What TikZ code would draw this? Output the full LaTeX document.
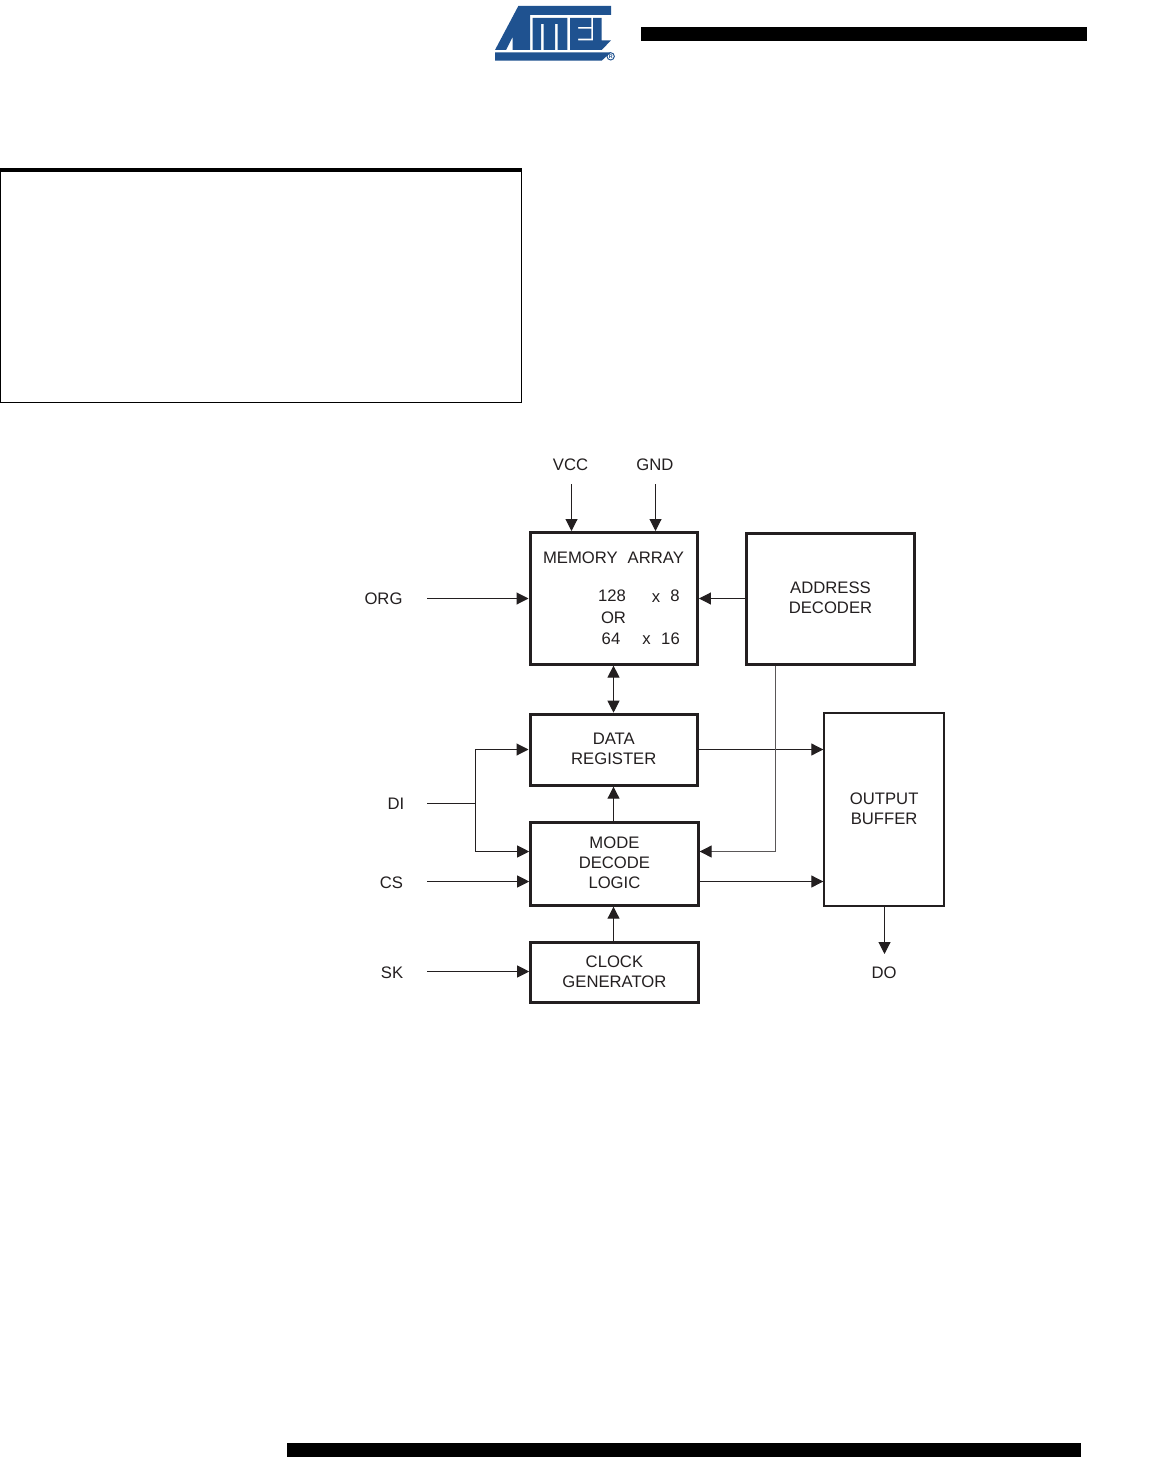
\documentclass[tikz,border=0pt]{standalone}
\usepackage{fontspec}
\setmainfont{Liberation Sans}
\usetikzlibrary{arrows.meta}
\definecolor{ink}{HTML}{231F20}
\definecolor{logoblue}{HTML}{1F5290}
\tikzset{
  x=0.75pt,y=-0.75pt,
  every node/.style={font=\fontsize{12.5pt}{15pt}\selectfont,text=ink,inner sep=0pt},
  heavybox/.style={draw=ink,line width=2.25pt,align=center,anchor=north west,text depth=1.5pt},
  thinbox/.style={draw=ink,line width=1.6pt,align=center,anchor=north west,text depth=1.5pt},
  lbl/.style={anchor=base},
  wire/.style={draw=ink,line width=0.8pt},
  arr/.style={wire,-{Triangle[length=9pt,width=9pt,color=ink]}},
  biarr/.style={wire,{Triangle[length=9pt,width=9pt,color=ink]}-{Triangle[length=9pt,width=9pt,color=ink]}},
  lightarr/.style={draw=ink!75,line width=0.75pt,-{Triangle[length=9pt,width=9pt,color=ink]}},
  bar/.style={fill=black,draw=none},
  logofill/.style={fill=logoblue,draw=none},
}
\begin{document}
\begin{tikzpicture}
\useasboundingbox (0,0) rectangle (1152,1473);
\fill[white] (0,0) rectangle (1152,1473);

% header and footer bars
\fill[bar] (641,27) rectangle (1087,41);
\fill[bar] (287,1443) rectangle (1081,1457);

% empty frame
\draw[black,line width=0.75pt] (0.5,170) -- (0.5,402.5) -- (521.5,402.5) -- (521.5,170);
\fill[black] (0,168) rectangle (522,172);

% logo
\begin{scope}[shift={(480,0)},x=0.25pt,y=-0.25pt]
  \fill[logofill] (115,18) -- (393,18) -- (393,45) -- (150,45) -- (150,150) -- (98,150) -- (98,110) -- (78,150) -- (45,150) -- cycle;
  \fill[logofill] (158,54) -- (262,54) -- (262,150) -- (233,150) -- (233,72) -- (225,72) -- (225,150) -- (191,150) -- (191,72) -- (183,72) -- (183,150) -- (158,150) -- cycle;
  \fill[logofill] (270,54) -- (334,54) -- (334,81) -- (294,81) -- (294,86) -- (334,86) -- (334,116) -- (294,116) -- (294,121) -- (339,121) -- (339,54) -- (365,54) -- (365,121) -- (393,121) -- (365,150) -- (270,150) -- cycle;
  \fill[logofill] (45,157) -- (393,157) -- (365,182) -- (45,182) -- cycle;
  \draw[logoblue,line width=0.7pt] (392,169) circle (11);
  \node[font=\fontsize{4pt}{4pt}\selectfont\bfseries,text=logoblue] (reg) at (392,169) {R};
\end{scope}

% blocks
\node[heavybox,minimum width=125.6pt,minimum height=98.7pt] (mem) at (528.5,531) {};
\node[heavybox,minimum width=125.6pt,minimum height=53.25pt] (data) at (528.5,712.7) {DATA\\REGISTER};
\node[heavybox,minimum width=125.6pt,minimum height=62.25pt] (mode) at (529.2,820.7) {MODE\\DECODE\\LOGIC};
\node[heavybox,minimum width=125.6pt,minimum height=44.5pt] (clock) at (529.2,941.3) {CLOCK\\GENERATOR};
\node[heavybox,minimum width=126pt,minimum height=98.25pt] (addr) at (745,531.7) {ADDRESS\\DECODER};
\node[thinbox,minimum width=89.7pt,minimum height=144.2pt] (out) at (823.3,712.3) {OUTPUT\\BUFFER};

% memory array text
\node[lbl] (mt) at (613.5,563) {MEMORY\hspace{0.6em}ARRAY};
\node[lbl] (m128) at (612,601.5) {128};
\node[lbl] (mx8a) at (656,602) {x};
\node[lbl] (mx8b) at (675,601.5) {8};
\node[lbl] (mor) at (613.5,623.5) {OR};
\node[lbl] (m64) at (611,644) {64};
\node[lbl] (mx16a) at (646.5,644) {x};
\node[lbl] (mx16b) at (670.5,644) {16};

% pin labels
\node[lbl] (vcc) at (570.5,470) {VCC};
\node[lbl] (gnd) at (655,470) {GND};
\node[lbl] (org) at (383.5,604.5) {ORG};
\node[lbl] (di) at (396,809.5) {DI};
\node[lbl] (cs) at (391.5,888) {CS};
\node[lbl] (sk) at (392,978) {SK};
\node[lbl] (do) at (884,978) {DO};

% connector ends
\coordinate (vccS) at (571.5,484);
\coordinate (gndS) at (655.5,484);
\coordinate (orgS) at (427,598.5);
\coordinate (diS) at (427,803.5);
\coordinate (diJ) at (475.5,803.5);
\coordinate (csS) at (427,881.5);
\coordinate (skS) at (427,971.5);
\coordinate (doE) at (884.5,954);
\coordinate (addrD) at (775.5,851.5);
\coordinate (bus) at (613.5,700);
\coordinate (dataY) at (600,749.5);
\coordinate (modeY) at (600,851.5);
\coordinate (modeO) at (750,881.5);

% connectors
\draw[arr] (vccS) -- (vccS |- mem.north);
\draw[arr] (gndS) -- (gndS |- mem.north);
\draw[arr] (orgS) -- (orgS -| mem.west);
\draw[arr] (orgS -| addr.west) -- (orgS -| mem.east);
\draw[biarr] (bus |- mem.south) -- (bus |- data.north);
\draw[arr] (bus |- mode.north) -- (bus |- data.south);
\draw[arr] (bus |- clock.north) -- (bus |- mode.south);
\draw[arr] (dataY -| data.east) -- (dataY -| out.west);
\draw[arr] (modeO -| mode.east) -- (modeO -| out.west);
\draw[lightarr] (addrD |- addr.south) -- (addrD) -- (addrD -| mode.east);
\draw[wire] (diS) -- (diJ);
\draw[arr] (diJ) |- (dataY -| data.west);
\draw[arr] (diJ) |- (modeY -| mode.west);
\draw[arr] (csS) -- (csS -| mode.west);
\draw[arr] (skS) -- (skS -| clock.west);
\draw[arr] (doE |- out.south) -- (doE);
\end{tikzpicture}
\end{document}
